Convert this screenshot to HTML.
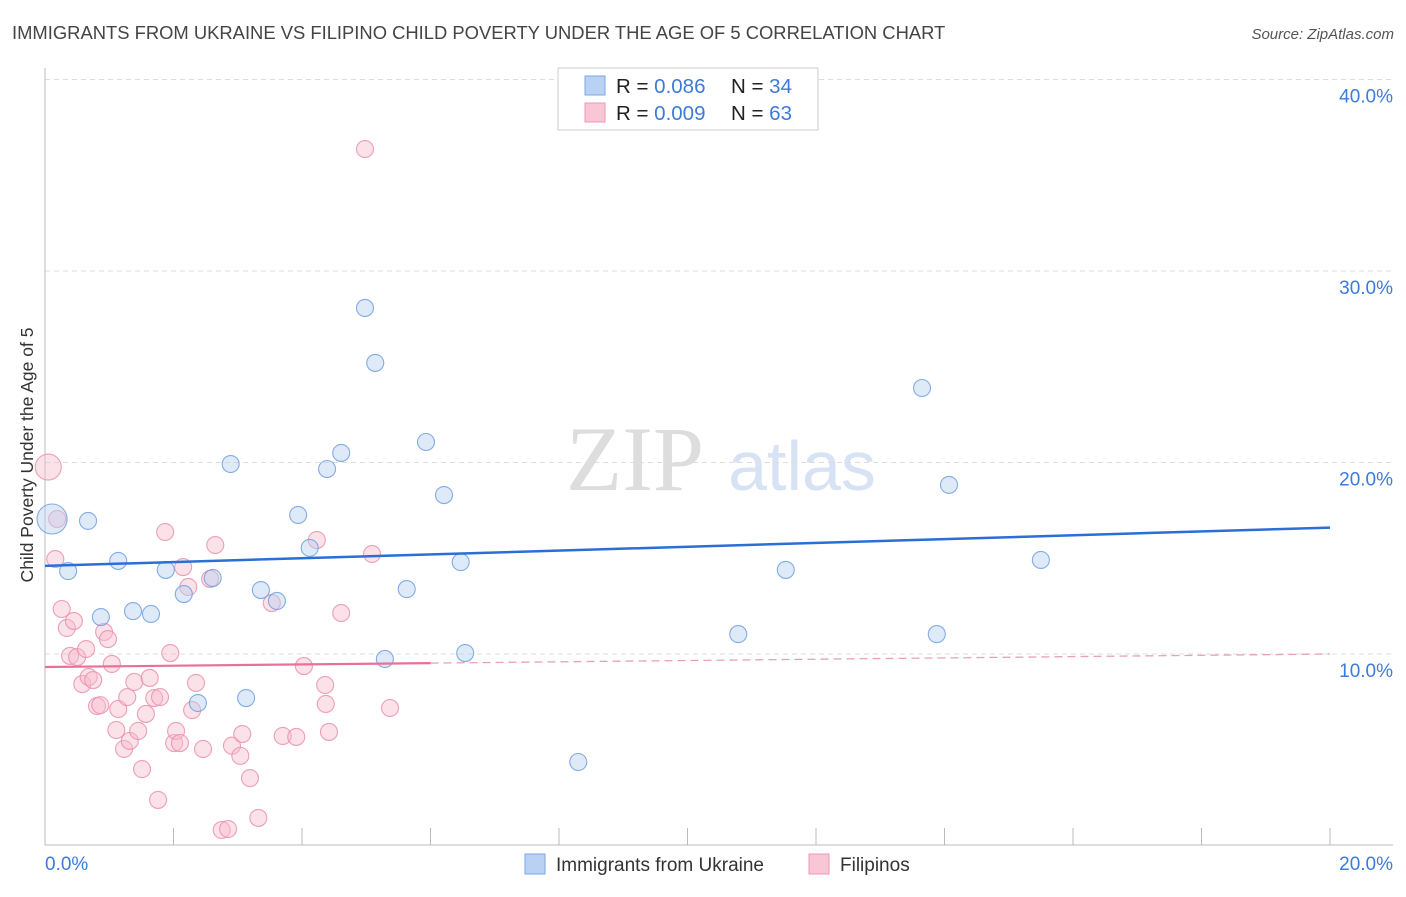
<!DOCTYPE html>
<html><head><meta charset="utf-8"><style>
html,body{margin:0;padding:0;background:#fff;}
body{width:1406px;height:892px;overflow:hidden;font-family:"Liberation Sans",sans-serif;}
</style></head><body>
<svg id="chart" width="1406" height="892" xmlns="http://www.w3.org/2000/svg" font-family="Liberation Sans, sans-serif">
<text x="12" y="39" font-size="18.4" fill="#444">IMMIGRANTS FROM UKRAINE VS FILIPINO CHILD POVERTY UNDER THE AGE OF 5 CORRELATION CHART</text>
<text x="1394" y="39" font-size="15" fill="#555" font-style="italic" text-anchor="end">Source: ZipAtlas.com</text>
<text transform="translate(33,455) rotate(-90)" font-size="17.5" fill="#333" text-anchor="middle">Child Poverty Under the Age of 5</text>
<g>
<text x="635" y="490" font-size="92" fill="#ddd" font-family="Liberation Serif, serif" text-anchor="middle">ZIP</text>
<text x="802" y="490" font-size="70" fill="#d7e3f4" text-anchor="middle">atlas</text>
</g>
<g id="grid"></g>
<g id="marks"></g>
<g>
<rect x="558" y="68" width="260" height="62" fill="#fff" stroke="#ccc"/>
<rect x="585" y="76" width="20" height="19" fill="#b9d1f3" stroke="#7ea7e4"/>
<rect x="585" y="103" width="20" height="19" fill="#f9c6d5" stroke="#eb9ab3"/>
<text x="616" y="93" font-size="20.5" fill="#222">R = <tspan fill="#3d7bd9">0.086</tspan></text>
<text x="731" y="93" font-size="20.5" fill="#222">N = <tspan fill="#3d7bd9">34</tspan></text>
<text x="616" y="120" font-size="20.5" fill="#222">R = <tspan fill="#3d7bd9">0.009</tspan></text>
<text x="731" y="120" font-size="20.5" fill="#222">N = <tspan fill="#3d7bd9">63</tspan></text>
</g>
<g>
<rect x="525" y="854" width="20" height="20" fill="#b9d1f3" stroke="#7ea7e4"/>
<text x="556" y="871" font-size="19" fill="#333">Immigrants from Ukraine</text>
<rect x="809" y="854" width="20" height="20" fill="#f9c6d5" stroke="#eb9ab3"/>
<text x="840" y="871" font-size="19" fill="#333">Filipinos</text>
</g>
</svg>
<script>
const xTicks=[0,2,4,6,8,10,12,14,16,18,20];
const yTicks=[10,20,30,40];
const yTickLabels=["10.0%","20.0%","30.0%","40.0%"];
const xEndLabels=["0.0%","20.0%"];
const blueX=[0.11,0.67,0.36,1.14,0.87,1.37,1.65,1.88,2.16,2.38,2.61,2.89,3.13,3.36,3.61,3.94,4.12,4.39,4.61,4.98,5.14,5.29,5.63,5.93,6.21,6.47,6.54,8.30,10.79,11.53,13.65,13.88,14.07,15.50];
const blueY=[17.05,16.95,14.33,14.86,11.93,12.24,12.09,14.39,13.13,7.44,13.97,19.92,7.70,13.34,12.77,17.26,15.54,19.66,20.50,28.07,25.20,9.74,13.39,21.07,18.30,14.80,10.05,4.36,11.04,14.39,23.89,11.04,18.83,14.91];
const pinkX=[0.05,0.16,0.19,0.26,0.34,0.39,0.45,0.50,0.58,0.64,0.68,0.75,0.81,0.86,0.92,0.98,1.04,1.11,1.14,1.23,1.28,1.32,1.39,1.45,1.51,1.57,1.63,1.70,1.76,1.79,1.87,1.95,2.01,2.04,2.10,2.15,2.23,2.29,2.35,2.46,2.57,2.65,2.75,2.85,2.91,3.04,3.07,3.19,3.32,3.53,3.70,3.91,4.03,4.23,4.36,4.37,4.42,4.61,4.98,5.09,5.37];
const pinkY=[19.76,14.96,17.05,12.35,11.36,9.90,11.72,9.84,8.43,10.26,8.80,8.64,7.28,7.33,11.15,10.78,9.48,6.03,7.13,5.04,7.75,5.46,8.54,5.98,3.99,6.87,8.75,7.70,2.38,7.75,16.37,10.05,5.35,5.98,5.35,14.54,13.50,7.07,8.49,5.04,13.92,15.69,0.81,0.86,5.21,4.68,5.82,3.52,1.44,12.66,5.72,5.67,9.37,15.95,8.38,7.39,5.93,12.14,36.37,15.22,7.18];
const blueTrend=[14.6,0.1];
const pinkTrend=[9.32,0.034];
const bigBlue=[0], bigPink=[0];
const NS="http://www.w3.org/2000/svg";
const X0=45,X1=1330,Y0=845.5,PY=19.15;
function sx(v){return X0+v*(X1-X0)/20;}
function sy(v){return Y0-v*PY;}
function mk(tag,attrs,parent){const e=document.createElementNS(NS,tag);for(const k in attrs)e.setAttribute(k,attrs[k]);parent.appendChild(e);return e;}
const grid=document.getElementById('grid'),marks=document.getElementById('marks');
yTicks.forEach((t,i)=>{
 const l=mk('line',{x1:45,x2:1393,y1:sy(t),y2:sy(t),stroke:'#ddd','stroke-dasharray':'5,4'},grid);
 
 
 const tx=mk('text',{x:1393,y:sy(t)+23,'font-size':19,fill:'#3d7bd9','text-anchor':'end'},grid);
 tx.textContent=yTickLabels[i];
 
 
});
let ax=mk('line',{x1:45,x2:45,y1:68,y2:845,stroke:'#bbb'},grid);


ax=mk('line',{x1:45,x2:1393,y1:845,y2:845,stroke:'#bbb'},grid);


xTicks.forEach(t=>{
 const l=mk('line',{x1:sx(t),x2:sx(t),y1:828,y2:845,stroke:'#bbb'},grid);
 
 
});
let t0=mk('text',{x:45,y:870,'font-size':19,fill:'#3d7bd9'},grid);t0.textContent=xEndLabels[0];


t0=mk('text',{x:1393,y:870,'font-size':19,fill:'#3d7bd9','text-anchor':'end'},grid);t0.textContent=xEndLabels[1];


function dots(xs,ys,fill,stroke,big,name,bigR){
 xs.forEach((x,i)=>{
  const r=big.includes(i)?bigR:8.5;
  const c=mk('circle',{cx:sx(x),cy:sy(ys[i]),r:r,fill:fill,'fill-opacity':0.45,stroke:stroke,'stroke-width':1.1,'stroke-opacity':0.85},marks);
  
  
 });
}
dots(pinkX,pinkY,'#f7bccd','#eb8fae',bigPink,'filipinos',13);
dots(blueX,blueY,'#b7d0f2','#6f9fe0',bigBlue,'ukraine',15);
const rb=blueTrend;
let L=mk('line',{x1:sx(0),y1:sy(rb[0]),x2:sx(20),y2:sy(rb[0]+rb[1]*20),stroke:'#2a6fd6','stroke-width':2.5},marks);


const rp=pinkTrend;const pm=6;
L=mk('line',{x1:sx(0),y1:sy(rp[0]),x2:sx(pm),y2:sy(rp[0]+rp[1]*pm),stroke:'#e8719a','stroke-width':2.2},marks);


L=mk('line',{x1:sx(pm),y1:sy(rp[0]+rp[1]*pm),x2:sx(20),y2:sy(rp[0]+rp[1]*20),stroke:'#e8a0b8','stroke-width':1.3,'stroke-dasharray':'8,5'},marks);


</script>
</body></html>
